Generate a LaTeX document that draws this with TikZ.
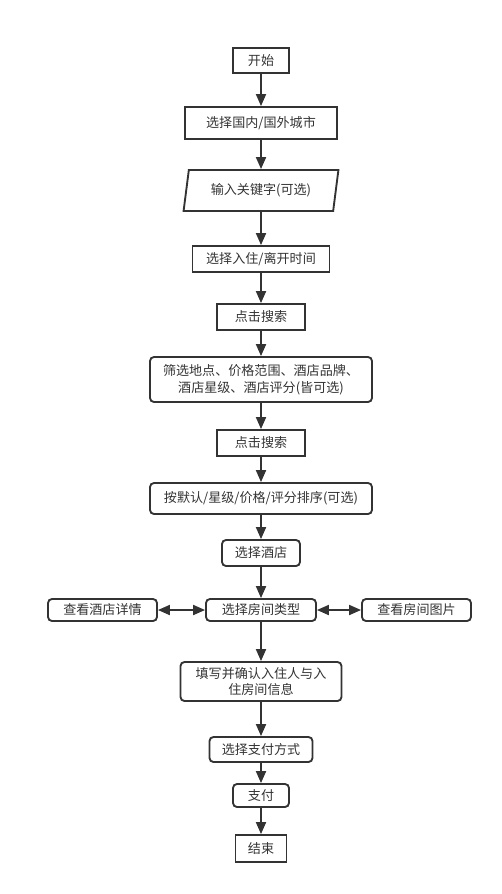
\documentclass[tikz,border=0pt]{standalone}
\usepackage{fontspec}
\newfontfamily\cjk{Noto Sans CJK SC}
\usetikzlibrary{arrows.meta,shapes.geometric}
\definecolor{ink}{HTML}{333333}
\tikzset{
  box/.style={draw=ink, text=ink, line width=1.4pt, inner sep=0pt, align=center,
    font=\cjk\fontsize{9.8}{12.5}\selectfont},
  rbox/.style={box, rounded corners=3pt},
  flow/.style={draw=ink, line width=1.4pt, -{Triangle[width=7.5pt,length=9pt]}},
  twoway/.style={draw=ink, line width=1.4pt,
    {Triangle[width=7.5pt,length=9pt]}-{Triangle[width=7.5pt,length=9pt]}}
}
\begin{document}
\begin{tikzpicture}[x=0.75pt,y=-0.75pt]
  \useasboundingbox (0,0) rectangle (502,894);
  % main column
  \node[box, minimum width=42pt, minimum height=18.75pt] (start) at (261,60.5) {开始};
  \node[box, minimum width=114pt, minimum height=24pt] (city) at (261,123) {选择国内/国外城市};
  \node[box, trapezium, trapezium left angle=75, trapezium right angle=105,
    trapezium stretches=true, minimum width=117pt, minimum height=30.75pt] (kw) at (261,190.5) {输入关键字(可选)};
  \node[box, minimum width=102.75pt, minimum height=19.5pt] (date) at (261,259) {选择入住/离开时间};
  \node[box, minimum width=66pt, minimum height=19.5pt] (search1) at (261,317) {点击搜索};
  \node[rbox, minimum width=166.5pt, minimum height=33.75pt] (filter) at (261,379.5)
    {筛选地点、价格范围、酒店品牌、\\酒店星级、酒店评分(皆可选)};
  \node[box, minimum width=66pt, minimum height=19.5pt] (search2) at (261,443) {点击搜索};
  \node[rbox, minimum width=166.5pt, minimum height=23.25pt] (sort) at (261,498.5) {按默认/星级/价格/评分排序(可选)};
  \node[rbox, minimum width=58.5pt, minimum height=19.5pt] (hotel) at (261,553) {选择酒店};
  \node[rbox, minimum width=82.5pt, minimum height=16.5pt] (room) at (261,610) {选择房间类型};
  \node[rbox, minimum width=120.75pt, minimum height=29.25pt] (fill) at (261,681.5)
    {填写并确认入住人与入\\住房间信息};
  \node[rbox, minimum width=77.25pt, minimum height=18.75pt] (pay) at (261,749.5) {选择支付方式};
  \node[rbox, minimum width=42pt, minimum height=17.25pt] (paid) at (261,795.5) {支付};
  \node[box, minimum width=38.25pt, minimum height=20.25pt] (end) at (261,848.5) {结束};
  % side boxes
  \node[rbox, minimum width=81.75pt, minimum height=16.5pt] (detail) at (102.5,610) {查看酒店详情};
  \node[rbox, minimum width=81.75pt, minimum height=16.5pt] (photo) at (416.5,610) {查看房间图片};

  \draw[flow] (start) -- (city);
  \draw[flow] (city) -- (kw);
  \draw[flow] (kw) -- (date);
  \draw[flow] (date) -- (search1);
  \draw[flow] (search1) -- (filter);
  \draw[flow] (filter) -- (search2);
  \draw[flow] (search2) -- (sort);
  \draw[flow] (sort) -- (hotel);
  \draw[flow] (hotel) -- (room);
  \draw[flow] (room) -- (fill);
  \draw[flow] (fill) -- (pay);
  \draw[flow] (pay) -- (paid);
  \draw[flow] (paid) -- (end);
  \draw[twoway] (detail) -- (room);
  \draw[twoway] (room) -- (photo);
\end{tikzpicture}
\end{document}
